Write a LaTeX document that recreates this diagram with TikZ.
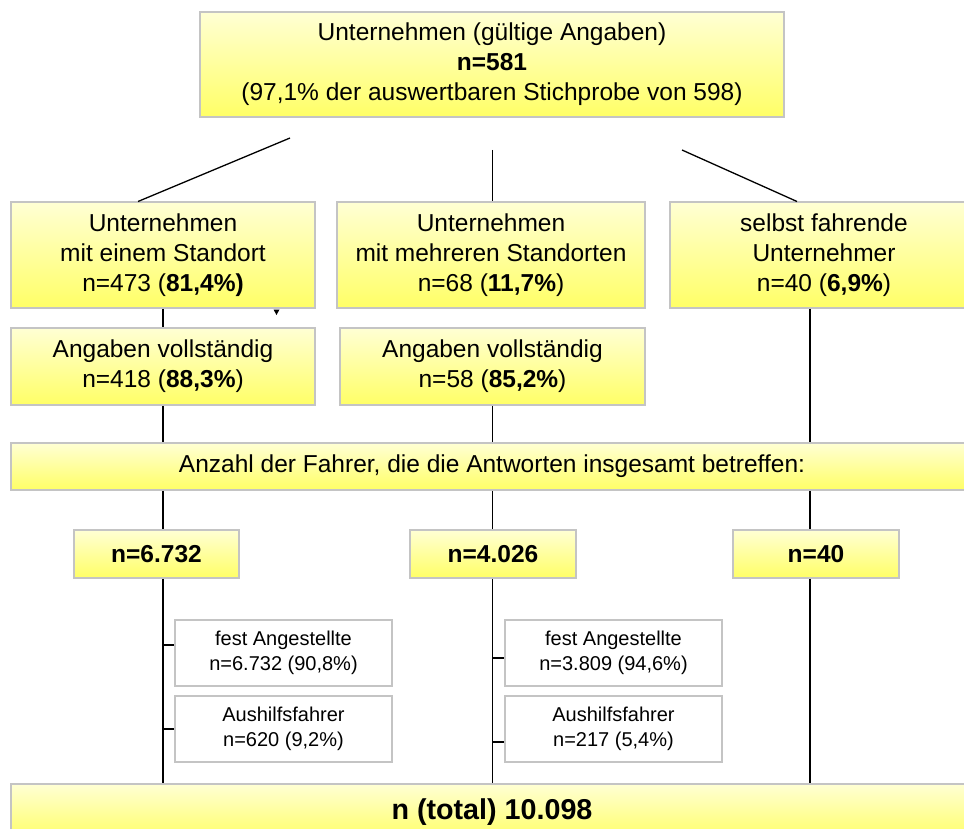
\documentclass[tikz,border=0pt]{standalone}
\usepackage{fontspec}
\setmainfont{Liberation Sans}
\usetikzlibrary{calc}
\definecolor{ylight}{RGB}{255,255,212}
\definecolor{ydeep}{RGB}{255,255,102}
\definecolor{frame}{RGB}{196,196,196}
\tikzset{
  ybox/.style={draw=frame, line width=1.5pt, top color=ylight, bottom color=ydeep,
    align=center, inner sep=0pt, font=\fontsize{24.5}{30}\selectfont},
  wbox/.style={draw=frame, line width=1.5pt, fill=white,
    align=center, inner sep=0pt, font=\fontsize{20}{25}\selectfont},
  link/.style={line width=1.3pt, black},
}
\begin{document}
\begin{tikzpicture}[x=1pt,y=-1pt]
\useasboundingbox (0,0) rectangle (964,829);
\clip (0,0) rectangle (964,829);

% column axes
\coordinate (colA) at (163,0);
\coordinate (colB) at (492.5,0);
\coordinate (colC) at (810,0);

% head
\node[ybox, minimum width=584pt, minimum height=105pt] (top) at (492,64.5)
  {Unternehmen (gültige Angaben)\\\textbf{n=581}\\(97,1\% der auswertbaren Stichprobe von 598)};

% company types
\node[ybox, minimum width=304pt, minimum height=106pt] (A) at (163,255)
  {Unternehmen\\mit einem Standort\\n=473 (\textbf{81,4\%)}};
\node[ybox, minimum width=308pt, minimum height=106pt] (B) at (491,255)
  {Unternehmen\\mit mehreren Standorten\\n=68 (\textbf{11,7\%})};
\node[ybox, minimum width=308pt, minimum height=106pt] (C) at (824,255)
  {selbst fahrende\\Unternehmer\\n=40 (\textbf{6,9\%})};

% complete answers
\node[ybox, minimum width=304pt, minimum height=77pt] (A2) at (163,366.5)
  {Angaben vollständig\\n=418 (\textbf{88,3\%})};
\node[ybox, minimum width=305pt, minimum height=77pt] (B2) at (492.5,366.5)
  {Angaben vollständig\\n=58 (\textbf{85,2\%})};

% drivers banner
\node[ybox, minimum width=962pt, minimum height=47pt] (W) at (492,466.5)
  {Anzahl der Fahrer, die die Antworten insgesamt betreffen:};

% driver counts
\node[ybox, minimum width=165pt, minimum height=48pt] (N1) at (156.5,554) {\textbf{n=6.732}};
\node[ybox, minimum width=166pt, minimum height=48pt] (N2) at (493,554) {\textbf{n=4.026}};
\node[ybox, minimum width=166pt, minimum height=48pt] (N3) at (816,554) {\textbf{n=40}};

% employment split
\node[wbox, minimum width=217pt, minimum height=66pt] (S1) at (283.5,653)
  {fest Angestellte\\n=6.732 (90,8\%)};
\node[wbox, minimum width=217pt, minimum height=66pt] (S2) at (283.5,729)
  {Aushilfsfahrer\\n=620 (9,2\%)};
\node[wbox, minimum width=217pt, minimum height=66pt] (S3) at (613.5,653)
  {fest Angestellte\\n=3.809 (94,6\%)};
\node[wbox, minimum width=217pt, minimum height=66pt] (S4) at (613.5,729)
  {Aushilfsfahrer\\n=217 (5,4\%)};

% total
\node[ybox, minimum width=962pt, minimum height=56pt, font=\fontsize{28.7}{34}\selectfont\bfseries] (T) at (492,812)
  {n (total) 10.098};

% branches below the head
\coordinate (dlA) at (290,138);
\coordinate (deA) at (138,201.5);
\coordinate (dlB) at (492.5,150);
\coordinate (dlC) at (682,150);
\coordinate (deC) at (797,201.5);
\draw[link] (dlA) -- (deA);
\draw[link] (dlB) -- (dlB |- B.north);
\draw[link] (dlC) -- (deC);

% column A
\draw[link] (colA |- A.south) -- (colA |- A2.north);
\draw[link] (colA |- A2.south) -- (colA |- W.north);
\draw[link] (colA |- W.south) -- (colA |- N1.north);
\draw[link] (colA |- N1.south) -- (colA |- T.north);
\draw[link] ([yshift=8pt]S1.west -| colA) -- ([yshift=8pt]S1.west);
\draw[link] (S2.west -| colA) -- (S2.west);

% column B
\draw[link] (colB |- B2.south) -- (colB |- W.north);
\draw[link] (colB |- W.south) -- (colB |- N2.north);
\draw[link] (colB |- N2.south) -- (colB |- T.north);
\draw[link] ([yshift=-5pt]S3.west -| colB) -- ([yshift=-5pt]S3.west);
\draw[link] ([yshift=-13pt]S4.west -| colB) -- ([yshift=-13pt]S4.west);

% column C
\draw[link] (colC |- C.south) -- (colC |- W.north);
\draw[link] (colC |- W.south) -- (colC |- N3.north);
\draw[link] (colC |- N3.south) -- (colC |- T.north);

% small marker under the first type box
\fill[black] (273.5,309.5) -- (279.5,309.5) -- (276.5,315) -- cycle;
\end{tikzpicture}
\end{document}
